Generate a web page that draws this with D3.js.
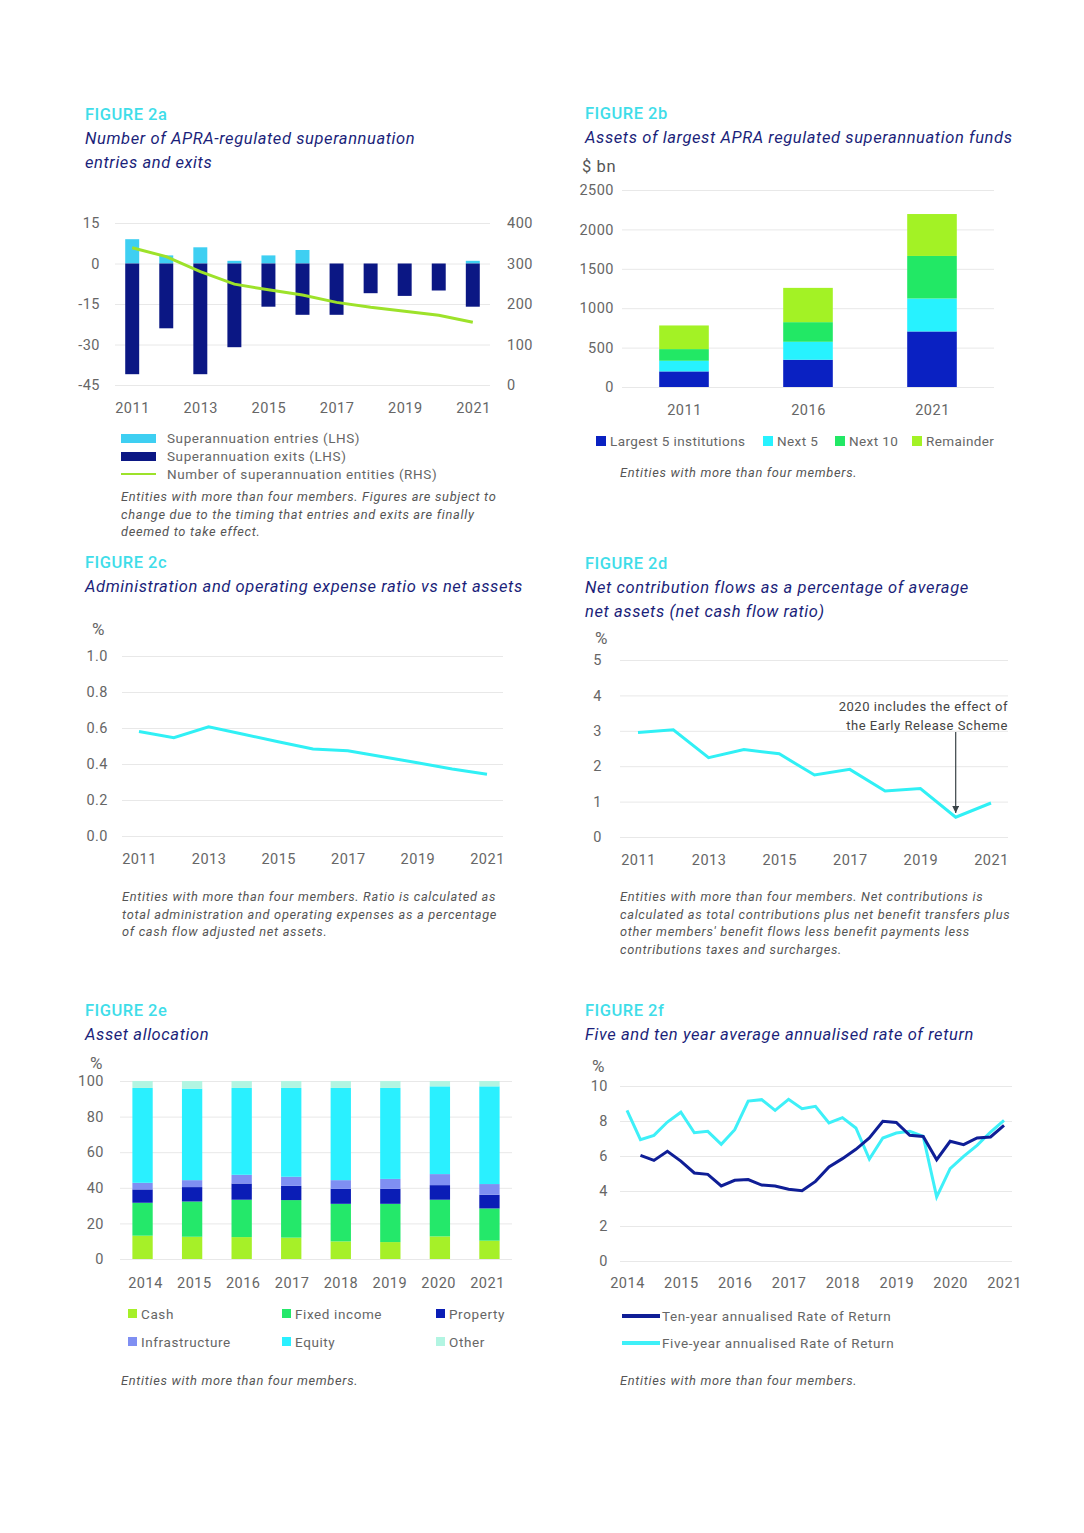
<!DOCTYPE html>
<html>
<head>
<meta charset="utf-8">
<script src="https://cdn.jsdelivr.net/npm/d3@7"></script>
<style>
  body { margin: 0; background: #fff; }
  svg text { font-family: Roboto, "Open Sans", sans-serif; }
  .tick text { fill: #666; font-size: 14.5px; letter-spacing: 0.5px; }
  .grid line { stroke: #e8e8e8; }
  .grid .domain { display: none; }
  .fig { fill: #3fdde9; font-size: 16.5px; font-weight: 500; letter-spacing: 0.5px; }
  .sub { fill: #1b1f7a; font-size: 16.5px; font-style: italic; letter-spacing: 0.6px; }
  .note { fill: #555; font-size: 12.8px; font-style: italic; letter-spacing: 0.7px; }
  .leg { fill: #666; font-size: 13.5px; letter-spacing: 0.6px; }
  .pct { fill: #666; font-size: 17px; }
</style>
</head>
<body>
<script>
// ---- data ----
// figure 2a
var years2a = [2011, 2012, 2013, 2014, 2015, 2016, 2017, 2018, 2019, 2020, 2021];
var entries = [9, 3, 6, 1, 3, 5, 0, 0, 0, 0, 1];
var exits = [-41, -24, -41, -31, -16, -19, -19, -11, -12, -10, -16];
var entities = [339, 317, 280, 249, 235, 222, 204, 192, 182, 172, 155];

// figure 2b
var years2b = [2011, 2016, 2021];
var largest5 = [198, 346, 705];
var next5 = [135, 228, 418];
var next10 = [148, 249, 540];
var remainder = [300, 435, 532];

// figure 2c
var years2c = [2011, 2012, 2013, 2014, 2015, 2016, 2017, 2018, 2019, 2020, 2021];
var expenseRatio = [0.58, 0.546, 0.607, 0.565, 0.524, 0.483, 0.474, 0.44, 0.407, 0.372, 0.343];

// figure 2d
var netCashFlow = [2.95, 3.03, 2.24, 2.47, 2.35, 1.75, 1.91, 1.30, 1.37, 0.56, 0.96];

// figure 2e
var years2e = [2014, 2015, 2016, 2017, 2018, 2019, 2020, 2021];
var cash = [13.1, 12.5, 12.3, 12.0, 9.9, 9.5, 12.7, 10.3];
var fixedIncome = [18.5, 19.8, 21.0, 21.1, 21.1, 21.5, 20.6, 18.1];
var property = [7.5, 8.1, 9.1, 8.0, 8.4, 8.4, 8.2, 7.7];
var infrastructure = [3.7, 3.9, 4.9, 5.1, 4.9, 5.6, 6.2, 6.0];
var equity = [53.3, 51.4, 48.8, 49.9, 51.8, 51.1, 49.3, 54.9];
var other = [3.9, 4.3, 3.9, 3.9, 3.9, 3.9, 3.0, 3.0];

// figure 2f (quarterly, from 2014.0 for five-year, 2014.25 for ten-year)
var fiveYear = [8.61, 6.93, 7.18, 7.94, 8.50, 7.33, 7.41, 6.67, 7.50, 9.14, 9.22, 8.61, 9.24, 8.70, 8.84, 7.89,
  8.19, 7.60, 5.83, 7.03, 7.31, 7.41, 7.12, 3.66, 5.28, 5.98, 6.61, 7.37, 8.04];
var tenYear = [6.04, 5.75, 6.27, 5.71, 5.03, 4.95, 4.29, 4.61, 4.65, 4.34, 4.29, 4.10, 4.02, 4.55, 5.37,
  5.85, 6.38, 7.03, 7.98, 7.92, 7.18, 7.12, 5.79, 6.84, 6.65, 7.03, 7.09, 7.75];

var svg = d3.select("body").append("svg")
  .attr("width", 1084)
  .attr("height", 1533);

function title(x, y, label, lines) {
  svg.append("text").attr("class", "fig").attr("x", x).attr("y", y).text(label);
  lines.forEach(function(l, i) {
    svg.append("text").attr("class", "sub").attr("x", x).attr("y", y + 24 + i * 24).text(l);
  });
}

function note(x, y, lines) {
  lines.forEach(function(l, i) {
    svg.append("text").attr("class", "note").attr("x", x).attr("y", y + i * 17.7).text(l);
  });
}

var hyphen = function(f) { return function(d) { return f(d).replace("\u2212", "-"); }; };

function leftGrid(y, x0, x1, ticks, fmt) {
  var g = svg.append("g").attr("class", "grid")
    .attr("transform", "translate(" + x0 + ",0)")
    .call(d3.axisLeft(y).tickValues(ticks).tickSize(-(x1 - x0)).tickPadding(14)
      .tickFormat(hyphen(fmt || d3.format("d"))));
  return g;
}

function bottomAxis(x, y0, ticks, fmt) {
  var g = svg.append("g")
    .attr("transform", "translate(0," + y0 + ")")
    .call(d3.axisBottom(x).tickValues(ticks).tickSize(0).tickPadding(0).tickFormat(fmt || d3.format("d")));
  g.select(".domain").remove();
  g.selectAll("text").attr("dy", "0.35em");
  return g;
}

// ---------- FIGURE 2a ----------
title(85, 120, "FIGURE 2a", ["Number of APRA-regulated superannuation", "entries and exits"]);
var x2a = d3.scaleBand().domain(years2a).range([115, 490]).paddingInner(0.59).paddingOuter(0.3);
var yL = d3.scaleLinear().domain([-45, 15]).range([385, 223]);
var yR = d3.scaleLinear().domain([0, 400]).range([385, 223]);
leftGrid(yL, 115, 490, [-45, -30, -15, 0, 15]).selectAll("text").attr("x", -15);
var gR = svg.append("g").attr("transform", "translate(507,0)")
  .call(d3.axisRight(yR).tickValues([0, 100, 200, 300, 400]).tickSize(0).tickPadding(0));
gR.select(".domain").remove();
bottomAxis(d3.scaleLinear().domain([2011, 2021]).range([132, 473]), 408, [2011, 2013, 2015, 2017, 2019, 2021]);

svg.append("g").selectAll("rect").data(years2a).join("rect")
  .attr("x", function(d) { return x2a(d); })
  .attr("width", x2a.bandwidth())
  .attr("y", function(d, i) { return yL(entries[i]); })
  .attr("height", function(d, i) { return yL(0) - yL(entries[i]); })
  .attr("fill", "#3ecff2");
svg.append("g").selectAll("rect").data(years2a).join("rect")
  .attr("x", function(d) { return x2a(d); })
  .attr("width", x2a.bandwidth())
  .attr("y", yL(0))
  .attr("height", function(d, i) { return yL(exits[i]) - yL(0); })
  .attr("fill", "#0b1784");
svg.append("path")
  .datum(entities)
  .attr("fill", "none").attr("stroke", "#9de22a").attr("stroke-width", 3)
  .attr("d", d3.line()
    .x(function(d, i) { return x2a(years2a[i]) + x2a.bandwidth() / 2; })
    .y(function(d) { return yR(d); }));

// legend 2a
var leg2a = [
  { label: "Superannuation entries (LHS)", color: "#3ecff2", type: "box" },
  { label: "Superannuation exits (LHS)", color: "#0b1784", type: "box" },
  { label: "Number of superannuation entities (RHS)", color: "#9de22a", type: "line" }
];
leg2a.forEach(function(d, i) {
  var yy = 438 + i * 18;
  if (d.type === "box") {
    svg.append("rect").attr("x", 121).attr("y", yy - 4).attr("width", 35).attr("height", 9).attr("fill", d.color);
  } else {
    svg.append("line").attr("x1", 121).attr("x2", 156).attr("y1", yy).attr("y2", yy)
      .attr("stroke", d.color).attr("stroke-width", 2);
  }
  svg.append("text").attr("class", "leg").attr("x", 167).attr("y", yy).attr("dy", "0.35em").text(d.label);
});
note(121, 501, ["Entities with more than four members. Figures are subject to",
  "change due to the timing that entries and exits are finally",
  "deemed to take effect."]);

// ---------- FIGURE 2b ----------
title(585, 119, "FIGURE 2b", ["Assets of largest APRA regulated superannuation funds"]);
svg.append("text").attr("x", 582).attr("y", 172).attr("fill", "#555")
  .style("font-size", "16.5px").style("letter-spacing", "0.6px").text("$ bn");
var x2b = d3.scaleBand().domain(years2b).range([622, 994]).paddingInner(0.6).paddingOuter(0.3);
var y2b = d3.scaleLinear().domain([0, 2500]).range([387, 190]);
leftGrid(y2b, 622, 994, [0, 500, 1000, 1500, 2000, 2500]).selectAll("text").attr("x", -8);
bottomAxis(d3.scaleLinear().domain([2011, 2021]).range([684, 932]), 410, years2b);
var series2b = [
  { name: "Largest 5 institutions", values: largest5, color: "#0a21c2" },
  { name: "Next 5", values: next5, color: "#27f2ff" },
  { name: "Next 10", values: next10, color: "#22e865" },
  { name: "Remainder", values: remainder, color: "#a3f225" }
];
var table2b = years2b.map(function(yr, i) {
  var row = { year: yr };
  series2b.forEach(function(s) { row[s.name] = s.values[i]; });
  return row;
});
var stack2b = d3.stack().keys(series2b.map(function(s) { return s.name; }))(table2b);
svg.append("g").selectAll("g").data(stack2b).join("g")
  .attr("fill", function(d, i) { return series2b[i].color; })
  .selectAll("rect").data(function(d) { return d; }).join("rect")
  .attr("x", function(d) { return x2b(d.data.year); })
  .attr("width", x2b.bandwidth())
  .attr("y", function(d) { return y2b(d[1]); })
  .attr("height", function(d) { return y2b(d[0]) - y2b(d[1]); });
var leg2bX = [596, 763, 835, 912];
series2b.forEach(function(s, i) {
  svg.append("rect").attr("x", leg2bX[i]).attr("y", 436).attr("width", 10).attr("height", 10).attr("fill", s.color);
  svg.append("text").attr("class", "leg").attr("x", leg2bX[i] + 14).attr("y", 441).attr("dy", "0.35em")
    .style("letter-spacing", "0.4px").text(s.name);
});
note(620, 477, ["Entities with more than four members."]);

// ---------- FIGURE 2c ----------
title(85, 568, "FIGURE 2c", ["Administration and operating expense ratio vs net assets"]);
svg.append("text").attr("class", "pct").attr("x", 92).attr("y", 635).text("%");
var x2c = d3.scaleLinear().domain([2011, 2021]).range([139, 487]);
var y2c = d3.scaleLinear().domain([0, 1]).range([836, 656]);
leftGrid(y2c, 122, 503, [0, 0.2, 0.4, 0.6, 0.8, 1.0], d3.format(".1f"));
bottomAxis(x2c, 859, [2011, 2013, 2015, 2017, 2019, 2021]);
svg.append("path").datum(expenseRatio)
  .attr("fill", "none").attr("stroke", "#30f0f5").attr("stroke-width", 3)
  .attr("d", d3.line().x(function(d, i) { return x2c(years2c[i]); }).y(function(d) { return y2c(d); }));
note(122, 901, ["Entities with more than four members. Ratio is calculated as",
  "total administration and operating expenses as a percentage",
  "of cash flow adjusted net assets."]);

// ---------- FIGURE 2d ----------
title(585, 569, "FIGURE 2d", ["Net contribution flows as a percentage of average", "net assets (net cash flow ratio)"]);
svg.append("text").attr("class", "pct").attr("x", 595).attr("y", 644).text("%");
var x2d = d3.scaleLinear().domain([2011, 2021]).range([638, 991]);
var y2d = d3.scaleLinear().domain([0, 5]).range([837, 660]);
leftGrid(y2d, 620, 1008, [0, 1, 2, 3, 4, 5]).selectAll("text").attr("x", -18);
bottomAxis(x2d, 860, [2011, 2013, 2015, 2017, 2019, 2021]);
svg.append("path").datum(netCashFlow)
  .attr("fill", "none").attr("stroke", "#30f0f5").attr("stroke-width", 3)
  .attr("d", d3.line().x(function(d, i) { return x2d(years2c[i]); }).y(function(d) { return y2d(d); }));
svg.append("defs").append("marker")
  .attr("id", "arrow").attr("viewBox", "0 0 10 10").attr("refX", 10).attr("refY", 5)
  .attr("markerWidth", 6).attr("markerHeight", 6).attr("orient", "auto")
  .append("path").attr("d", "M0,0L10,5L0,10Z").attr("fill", "#3a4448");
svg.append("line")
  .attr("x1", x2d(2020)).attr("x2", x2d(2020))
  .attr("y1", 732).attr("y2", y2d(0.68))
  .attr("stroke", "#3a4448").attr("stroke-width", 1.2).attr("marker-end", "url(#arrow)");
["2020 includes the effect of", "the Early Release Scheme"].forEach(function(l, i) {
  svg.append("text").attr("x", 1008).attr("y", 706 + i * 19).attr("dy", "0.35em")
    .attr("text-anchor", "end").attr("fill", "#444")
    .style("font-size", "13px").style("letter-spacing", "0.55px").text(l);
});
note(620, 901, ["Entities with more than four members. Net contributions is",
  "calculated as total contributions plus net benefit transfers plus",
  "other members' benefit flows less benefit payments less",
  "contributions taxes and surcharges."]);

// ---------- FIGURE 2e ----------
title(85, 1016, "FIGURE 2e", ["Asset allocation"]);
svg.append("text").attr("class", "pct").attr("x", 90).attr("y", 1069).text("%");
var x2e = d3.scaleBand().domain(years2e).range([120, 512]).paddingInner(0.59).paddingOuter(0.25);
var y2e = d3.scaleLinear().domain([0, 100]).range([1259, 1081]);
leftGrid(y2e, 120, 512, [0, 20, 40, 60, 80, 100]).selectAll("text").attr("x", -16);
bottomAxis(d3.scaleLinear().domain([2014, 2021]).range([145, 487]), 1283, years2e);
var series2e = [
  { name: "Cash", values: cash, color: "#a6f028" },
  { name: "Fixed income", values: fixedIncome, color: "#24e86a" },
  { name: "Property", values: property, color: "#0a1db6" },
  { name: "Infrastructure", values: infrastructure, color: "#7f8ff2" },
  { name: "Equity", values: equity, color: "#2af0ff" },
  { name: "Other", values: other, color: "#b2f5e2" }
];
var table2e = years2e.map(function(yr, i) {
  var row = { year: yr };
  series2e.forEach(function(s) { row[s.name] = s.values[i]; });
  return row;
});
var stack2e = d3.stack().keys(series2e.map(function(s) { return s.name; }))(table2e);
svg.append("g").selectAll("g").data(stack2e).join("g")
  .attr("fill", function(d, i) { return series2e[i].color; })
  .selectAll("rect").data(function(d) { return d; }).join("rect")
  .attr("x", function(d) { return x2e(d.data.year); })
  .attr("width", x2e.bandwidth())
  .attr("y", function(d) { return y2e(d[1]); })
  .attr("height", function(d) { return y2e(d[0]) - y2e(d[1]); });
var leg2eX = [128, 282, 436];
series2e.forEach(function(s, i) {
  var lx = leg2eX[i % 3], ly = 1314 + Math.floor(i / 3) * 28;
  svg.append("rect").attr("x", lx).attr("y", ly - 5).attr("width", 9).attr("height", 9).attr("fill", s.color);
  svg.append("text").attr("class", "leg").attr("x", lx + 13).attr("y", ly).attr("dy", "0.35em").text(s.name);
});
note(121, 1385, ["Entities with more than four members."]);

// ---------- FIGURE 2f ----------
title(585, 1016, "FIGURE 2f", ["Five and ten year average annualised rate of return"]);
svg.append("text").attr("class", "pct").attr("x", 592).attr("y", 1072).text("%");
var x2f = d3.scaleLinear().domain([2014, 2021]).range([627, 1004]);
var y2f = d3.scaleLinear().domain([0, 10]).range([1261, 1086]);
leftGrid(y2f, 620, 1012, [0, 2, 4, 6, 8, 10]).selectAll("text").attr("x", -12);
bottomAxis(x2f, 1283, years2e);
svg.append("path").datum(fiveYear)
  .attr("fill", "none").attr("stroke", "#3ef0f8").attr("stroke-width", 3)
  .attr("d", d3.line().x(function(d, i) { return x2f(2014 + i * 0.25); }).y(function(d) { return y2f(d); }));
svg.append("path").datum(tenYear)
  .attr("fill", "none").attr("stroke", "#0f1e96").attr("stroke-width", 3)
  .attr("d", d3.line().x(function(d, i) { return x2f(2014.25 + i * 0.25); }).y(function(d) { return y2f(d); }));
var leg2f = [
  { name: "Ten-year annualised Rate of Return", color: "#0f1e96" },
  { name: "Five-year annualised Rate of Return", color: "#3ef0f8" }
];
leg2f.forEach(function(s, i) {
  var ly = 1316 + i * 27;
  svg.append("line").attr("x1", 622).attr("x2", 660).attr("y1", ly).attr("y2", ly)
    .attr("stroke", s.color).attr("stroke-width", 4);
  svg.append("text").attr("class", "leg").attr("x", 662).attr("y", ly).attr("dy", "0.35em").text(s.name);
});
note(620, 1385, ["Entities with more than four members."]);
</script>
</body>
</html>
